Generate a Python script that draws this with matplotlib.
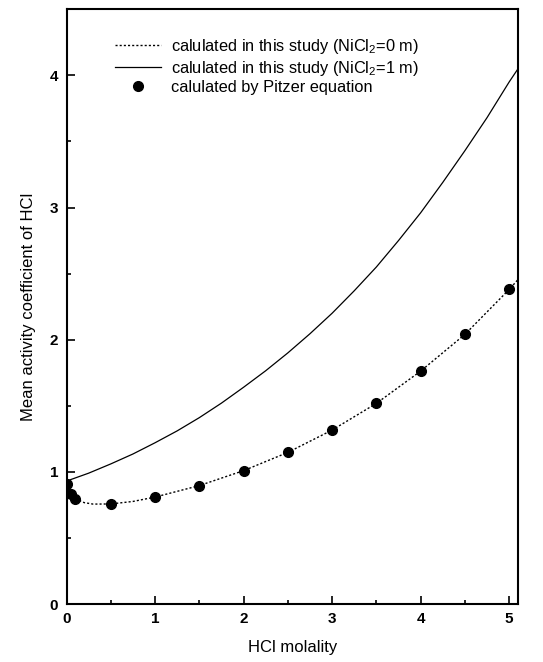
import numpy as np
import matplotlib
matplotlib.use('Agg')
import matplotlib.pyplot as plt
from matplotlib.ticker import MultipleLocator

plt.rcParams['font.family'] = ['Liberation Sans', 'DejaVu Sans']
plt.rcParams['mathtext.fontset'] = 'custom'
plt.rcParams['mathtext.rm'] = 'Liberation Sans'

# HCl molality vs mean activity coefficient, NiCl2 = 0 m (dotted curve)
m_zero = [0.001, 0.01, 0.05, 0.1, 0.2, 0.3, 0.5, 0.75, 1.0, 1.5, 2.0, 2.5, 3.0, 3.5, 4.0, 4.5, 5.0, 5.1]
g_zero = [0.966, 0.905, 0.830, 0.796, 0.767, 0.756, 0.757, 0.776, 0.809, 0.896, 1.009, 1.147, 1.316, 1.518, 1.762, 2.040, 2.380, 2.455]

# NiCl2 = 1 m (solid curve)
m_one = [0.0, 0.25, 0.5, 0.75, 1.0, 1.25, 1.5, 1.75, 2.0, 2.25, 2.5, 2.75, 3.0, 3.25, 3.5, 3.75,
         4.0, 4.25, 4.5, 4.75, 5.0, 5.1]
g_one = [0.93, 0.99, 1.06, 1.135, 1.22, 1.31, 1.41, 1.52, 1.64, 1.765, 1.90, 2.045, 2.20, 2.37, 2.55, 2.75,
         2.96, 3.19, 3.43, 3.68, 3.95, 4.05]

# Pitzer equation points
m_pitzer = [0.01, 0.05, 0.1, 0.5, 1.0, 1.5, 2.0, 2.5, 3.0, 3.5, 4.0, 4.5, 5.0]
g_pitzer = [0.905, 0.830, 0.796, 0.757, 0.809, 0.896, 1.009, 1.147, 1.316, 1.518, 1.762, 2.040, 2.380]

fig = plt.figure(figsize=(5.43, 6.62), dpi=100)
ax = fig.add_axes([0.1225, 0.0876, 0.8315, 0.8984])

ax.plot(m_zero, g_zero, color='black', lw=1.0, linestyle=(0, (1.5, 1.5)),
        label='calulated in this study (NiCl$_2$=0 m)')
ax.plot(m_one, g_one, color='black', lw=0.9,
        label='calulated in this study (NiCl$_2$=1 m)')
ax.plot(m_pitzer, g_pitzer, 'o', color='black', ms=7, linestyle='none',
        label='calulated by Pitzer equation')

ax.set_xlim(0, 5.1)
ax.set_ylim(0, 4.5)
ax.xaxis.set_major_locator(MultipleLocator(1))
ax.xaxis.set_minor_locator(MultipleLocator(0.5))
ax.yaxis.set_major_locator(MultipleLocator(1))
ax.yaxis.set_minor_locator(MultipleLocator(0.5))
ax.tick_params(which='both', direction='in', top=False, right=False, width=1.2, labelsize=11)
ax.tick_params(which='major', length=6, pad=6)
ax.tick_params(which='minor', length=3)
for lbl in ax.get_xticklabels() + ax.get_yticklabels():
    lbl.set_fontweight('bold')
for s in ax.spines.values():
    s.set_linewidth(1.5)

ax.set_xlabel('HCl molality', fontsize=12, labelpad=10)
ax.set_ylabel('Mean activity coefficient of HCl', fontsize=12, labelpad=10)

ax.legend(loc='upper left', bbox_to_anchor=(0.09, 0.967), frameon=False, fontsize=11.8,
          handlelength=2.8, handletextpad=0.6, labelspacing=0.15, borderpad=0)

fig.savefig('out.png', dpi=100)
